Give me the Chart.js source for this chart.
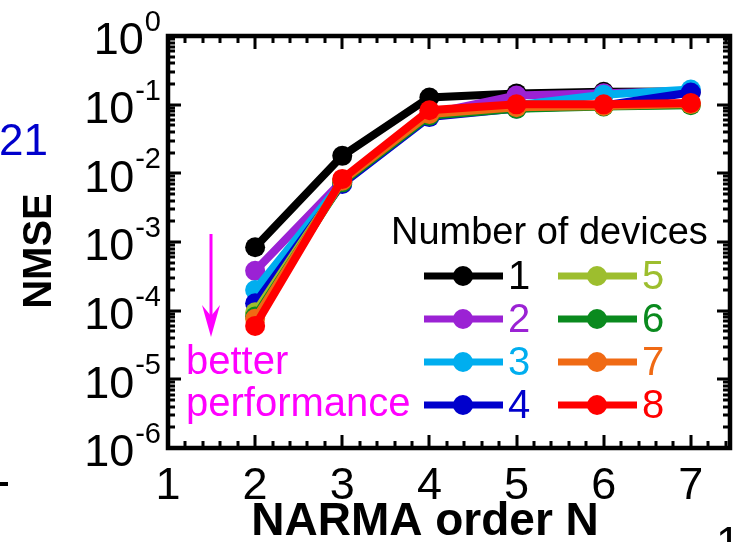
<!DOCTYPE html>
<html>
<head>
<meta charset="utf-8">
<script src="https://cdn.jsdelivr.net/npm/chart.js@4.4.0/dist/chart.umd.min.js"></script>
<style>
html, body { margin: 0; padding: 0; background: #fff; }
#wrap { width: 740px; height: 542px; }
</style>
</head>
<body>
<div id="wrap"><canvas id="nmseChart" width="740" height="542"></canvas></div>
<script>
//Data
var narmaOrder = [2, 3, 4, 5, 6, 7];
var dev1 = [8.4e-4, 1.8e-2, 0.127, 0.146, 0.154, 0.156];
var dev2 = [3.8e-4, 7.8e-3, 0.074, 0.136, 0.147, 0.158];
var dev3 = [2.0e-4, 7.5e-3, 0.070, 0.098, 0.140, 0.166];
var dev4 = [1.28e-4, 7.0e-3, 0.066, 0.088, 0.097, 0.150];
var dev5 = [9.5e-5, 7.6e-3, 0.071, 0.090, 0.095, 0.100];
var dev6 = [8.2e-5, 7.4e-3, 0.069, 0.087, 0.094, 0.098];
var dev7 = [7.6e-5, 7.8e-3, 0.073, 0.092, 0.096, 0.102];
var dev8 = [6.0e-5, 8.3e-3, 0.083, 0.101, 0.101, 0.106];

var devLabels = ['1', '2', '3', '4', '5', '6', '7', '8'];
var devColours = ['#000000', '#9B22D4', '#00AEEF', '#0000CC', '#9DBE2E', '#0A8A1E', '#F06A14', '#FF0000'];

//Axis ticks
var xTicks = [1, 2, 3, 4, 5, 6, 7];
var yExponents = [0, -1, -2, -3, -4, -5, -6];

//Labels
var xTitle = 'NARMA order N';
var yTitle = 'NMSE';
var legendTitle = 'Number of devices';
var noteLines = ['better', 'performance'];

var allSeries = [dev1, dev2, dev3, dev4, dev5, dev6, dev7, dev8];

var datasets = [];
for (var i = 0; i < allSeries.length; i++) {
    var pts = [];
    for (var j = 0; j < narmaOrder.length; j++) {
        pts.push({ x: narmaOrder[j], y: allSeries[i][j] });
    }
    datasets.push({
        label: devLabels[i],
        data: pts,
        borderColor: devColours[i],
        backgroundColor: devColours[i],
        pointBackgroundColor: devColours[i],
        pointBorderWidth: 0,
        pointRadius: 10,
        borderWidth: 8,
        fill: false,
        order: allSeries.length - i
    });
}

var FONT = '"Liberation Sans", Arial, sans-serif';

//frame, inward ticks, tick labels, legend and notes
var decor = {
    id: 'decor',
    afterDatasetsDraw: function(chart) {
        var ctx = chart.ctx;
        var a = chart.chartArea;
        var xs = chart.scales.x;
        var ys = chart.scales.y;
        ctx.save();
        ctx.fillStyle = '#000';
        // x ticks (major every 1, minor every 0.2)
        for (var t = 1; t <= 7.45; t += 0.2) {
            var v = Math.round(t * 10) / 10;
            var px = Math.round(xs.getPixelForValue(v));
            var major = Math.abs(v - Math.round(v)) < 0.01;
            var len = major ? 13 : 7;
            ctx.fillRect(px - 1.5, a.bottom - len, 3, len);
            ctx.fillRect(px - 1.5, a.top, 3, len);
        }
        // y ticks (decades and 2..9)
        for (var e = -6; e <= 0; e++) {
            for (var m = 1; m <= 9; m++) {
                var val = m * Math.pow(10, e);
                if (val > 1) break;
                var py = Math.round(ys.getPixelForValue(val));
                var len2 = m === 1 ? 13 : 7;
                ctx.fillRect(a.left, py - 1.5, len2, 3);
                ctx.fillRect(a.right - len2, py - 1.5, len2, 3);
            }
        }
        // frame
        ctx.lineWidth = 4.5;
        ctx.strokeStyle = '#000';
        ctx.strokeRect(a.left, a.top, a.right - a.left, a.bottom - a.top);
        ctx.restore();
    },
    afterDraw: function(chart) {
        var ctx = chart.ctx;
        var xs = chart.scales.x;
        var ys = chart.scales.y;
        ctx.save();
        ctx.fillStyle = '#000';
        ctx.textBaseline = 'middle';

        // x tick labels
        ctx.font = '45px ' + FONT;
        ctx.textAlign = 'center';
        for (var i = 0; i < xTicks.length; i++) {
            ctx.fillText(String(xTicks[i]), xs.getPixelForValue(xTicks[i]), 487);
        }

        // y tick labels 10^n
        for (var k = 0; k < yExponents.length; k++) {
            var py = ys.getPixelForValue(Math.pow(10, yExponents[k]));
            var sup = String(yExponents[k]);
            ctx.font = '29px ' + FONT;
            var supW = ctx.measureText(sup).width;
            var right = 161;
            ctx.textAlign = 'left';
            ctx.fillText(sup, right - supW, py - 13);
            ctx.font = '45px ' + FONT;
            ctx.textAlign = 'right';
            ctx.fillText('10', right - supW - 1, py + 6);
        }

        // axis titles
        ctx.font = 'bold 46px ' + FONT;
        ctx.textAlign = 'center';
        ctx.fillText(xTitle, 425, 522);
        ctx.save();
        ctx.translate(40, 251);
        ctx.rotate(-Math.PI / 2);
        ctx.font = 'bold 40px ' + FONT;
        ctx.fillText(yTitle, 0, 0);
        ctx.restore();

        // legend
        ctx.font = '38px ' + FONT;
        ctx.textAlign = 'left';
        ctx.fillText(legendTitle, 391, 234);
        var rowsY = [276, 319, 362, 405];
        var colsX = [424, 558];
        ctx.font = '40px ' + FONT;
        for (var n = 0; n < devLabels.length; n++) {
            var col = Math.floor(n / 4);
            var row = n % 4;
            var lx = colsX[col];
            var ly = rowsY[row];
            ctx.strokeStyle = devColours[n];
            ctx.lineWidth = 7;
            ctx.beginPath();
            ctx.moveTo(lx, ly);
            ctx.lineTo(lx + 79, ly);
            ctx.stroke();
            ctx.fillStyle = devColours[n];
            ctx.beginPath();
            ctx.arc(lx + 39, ly, 10, 0, Math.PI * 2);
            ctx.fill();
            ctx.fillText(devLabels[n], lx + 84, ly + 2);
        }

        // better performance arrow
        ctx.strokeStyle = '#FF00FF';
        ctx.fillStyle = '#FF00FF';
        ctx.lineWidth = 3;
        ctx.beginPath();
        ctx.moveTo(211, 234);
        ctx.lineTo(211, 325);
        ctx.stroke();
        ctx.beginPath();
        ctx.moveTo(202, 305);
        ctx.lineTo(211, 337);
        ctx.lineTo(220, 305);
        ctx.lineTo(211, 316);
        ctx.closePath();
        ctx.fill();
        ctx.font = '40px ' + FONT;
        ctx.fillText(noteLines[0], 186, 363);
        ctx.fillText(noteLines[1], 186, 405);

        // bits of neighbouring panels
        ctx.fillStyle = '#0000CC';
        ctx.font = '44px ' + FONT;
        ctx.fillText('21', -1, 143);
        ctx.fillStyle = '#000';
        ctx.fillRect(0, 482, 8, 4);
        ctx.fillText('1', 716, 546);
        ctx.restore();
    }
};

const config = {
    type: 'line',
    data: { datasets: datasets },
    options: {
        responsive: false,
        animation: false,
        layout: { padding: { left: 168, right: 10, top: 36, bottom: 94 } },
        scales: {
            x: { type: 'linear', min: 1, max: 7.45, display: false },
            y: { type: 'logarithmic', min: 1e-6, max: 1, display: false }
        },
        plugins: {
            legend: { display: false },
            tooltip: { enabled: false }
        }
    },
    plugins: [decor]
};

var chart = new Chart(document.getElementById('nmseChart'), config);
</script>
</body>
</html>
